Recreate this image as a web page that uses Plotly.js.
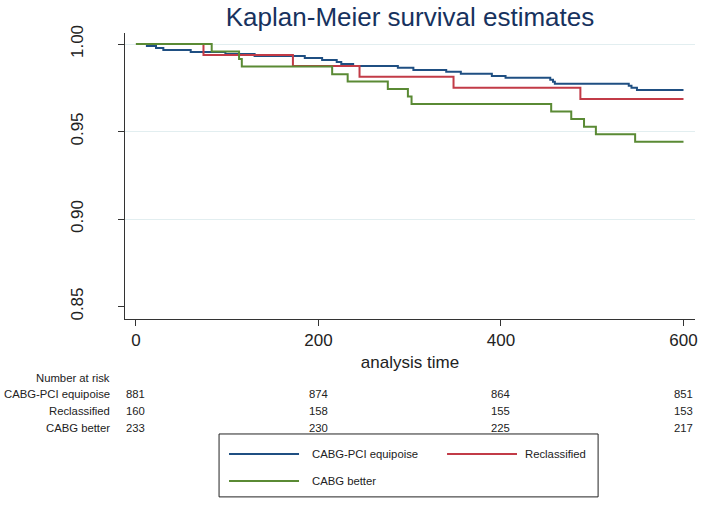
<!DOCTYPE html>
<html>
<head>
<meta charset="utf-8">
<script src="https://cdn.plot.ly/plotly-3.0.1.min.js"></script>
<style>html,body{margin:0;padding:0;background:#fff;}#chart{width:705px;height:507px;}</style>
</head>
<body>
<div id="chart"></div>
<script>
// Kaplan-Meier step data (time, survival)
const equipoiseT = [0, 12, 22, 30, 60, 98, 130, 185, 204, 220, 225, 238, 287, 304, 340, 356, 390, 405, 454, 457, 459, 540, 543, 549, 600];
const equipoiseS = [1, 0.9989, 0.9977, 0.9966, 0.9955, 0.9943, 0.9932, 0.9920, 0.9909, 0.9898, 0.9886, 0.9875, 0.9864, 0.9852, 0.9841, 0.9830, 0.9818, 0.9807, 0.9796, 0.9784, 0.9773, 0.9761, 0.9750, 0.9738, 0.9738];
const reclassT = [0, 74, 172, 245, 348, 487, 600];
const reclassS = [1, 0.9938, 0.9875, 0.9813, 0.9750, 0.9686, 0.9686];
const betterT = [0, 83, 113, 116, 215, 232, 276, 298, 302, 455, 477, 491, 504, 547, 600];
const betterS = [1, 0.9957, 0.9914, 0.9871, 0.9828, 0.9786, 0.9743, 0.9700, 0.9657, 0.9614, 0.9571, 0.9528, 0.9485, 0.9442, 0.9442];

const seriesNames = ["CABG-PCI equipoise", "Reclassified", "CABG better"];
const seriesColors = ["#1f4f82", "#c23b47", "#5a8a34"];

const xTicks = [0, 200, 400, 600];
const yTicks = [0.85, 0.90, 0.95, 1.00];
const yTickText = ["0.85", "0.90", "0.95", "1.00"];
const yGrid = [0.90, 0.95, 1.00];

const riskTimes = [0, 200, 400, 600];
const riskEquipoise = [881, 874, 864, 851];
const riskReclass = [160, 158, 155, 153];
const riskBetter = [233, 230, 225, 217];

const FONT = "Liberation Sans, Arial, sans-serif";
const SMALL = 11.3;

const data = [
  {x: equipoiseT, y: equipoiseS, name: seriesNames[0]},
  {x: reclassT, y: reclassS, name: seriesNames[1]},
  {x: betterT, y: betterS, name: seriesNames[2]}
].map((d, i) => Object.assign(d, {
  type: "scatter", mode: "lines", line: {shape: "hv", color: seriesColors[i], width: 2},
  showlegend: false, hoverinfo: "x+y+name"
}));

// Grid-only helper axis
data.push({x: [xTicks[0]], y: [yTicks[0]], yaxis: "y2", mode: "markers", marker: {opacity: 0}, showlegend: false, hoverinfo: "skip"});

const annotations = [];
// Risk table
const riskRows = [riskEquipoise, riskReclass, riskBetter];
const rowY = [-0.2622, -0.3217, -0.3811];
annotations.push({text: "Number at risk", xref: "paper", yref: "paper", x: -0.023, y: -0.2063, xanchor: "right", yanchor: "middle", showarrow: false, font: {family: FONT, size: SMALL, color: "#222"}});
riskRows.forEach((row, r) => {
  annotations.push({text: seriesNames[r], xref: "paper", yref: "paper", x: -0.023, y: rowY[r], xanchor: "right", yanchor: "middle", showarrow: false, font: {family: FONT, size: SMALL, color: "#222"}});
  row.forEach((v, k) => {
    annotations.push({text: String(v), xref: "x", yref: "paper", x: riskTimes[k], y: rowY[r], xanchor: "center", yanchor: "middle", showarrow: false, font: {family: FONT, size: SMALL, color: "#222"}});
  });
});

// Custom legend
const shapes = [
  {type: "rect", xref: "paper", yref: "paper", x0: 0.165, x1: 0.83, y0: -0.622, y1: -0.402, line: {color: "#222", width: 1}, fillcolor: "rgba(0,0,0,0)"}
];
const legItems = [
  {x0: 0.1825, x1: 0.3053, y: -0.472, tx: 0.3246, anchor: "left"},
  {x0: 0.565, x1: 0.6877, y: -0.472, tx: 0.8123, anchor: "right"},
  {x0: 0.1825, x1: 0.3053, y: -0.5664, tx: 0.3246, anchor: "left"}
];
legItems.forEach((it, i) => {
  shapes.push({type: "line", xref: "paper", yref: "paper", x0: it.x0, x1: it.x1, y0: it.y, y1: it.y, line: {color: seriesColors[i], width: 2}});
  annotations.push({text: seriesNames[i], xref: "paper", yref: "paper", x: it.tx, y: it.y, xanchor: it.anchor, yanchor: "middle", showarrow: false, font: {family: FONT, size: SMALL, color: "#222"}});
});

const yRange = [0.8429, 1.0063];
const layout = {
  width: 705, height: 507,
  margin: {l: 125, r: 10, t: 33, b: 188},
  paper_bgcolor: "#fff", plot_bgcolor: "#fff",
  font: {family: FONT, color: "#222"},
  title: {text: "Kaplan-Meier survival estimates", x: 0.5, xref: "paper", y: 0.967, yref: "container", yanchor: "middle",
          font: {family: FONT, size: 26, color: "#17325e"}},
  xaxis: {range: [-12, 612.6], tickvals: xTicks, ticks: "outside", ticklen: 6, tickcolor: "#333", tickwidth: 1,
          showgrid: false, zeroline: false, showline: true, linecolor: "#333", linewidth: 1,
          tickfont: {family: FONT, size: 17, color: "#222"},
          title: {text: "analysis time", font: {family: FONT, size: 17, color: "#222"}, standoff: 6}},
  yaxis: {range: yRange, tickvals: yTicks, ticktext: yTickText, ticks: "outside", ticklen: 6, tickcolor: "#333", tickwidth: 1,
          tickangle: -90, ticklabelstandoff: 28,
          showgrid: false, zeroline: false, showline: true, linecolor: "#333", linewidth: 1,
          tickfont: {family: FONT, size: 17, color: "#222"}},
  yaxis2: {range: yRange, overlaying: "y", tickvals: yGrid, showticklabels: false, ticks: "", showline: false,
           showgrid: true, gridcolor: "#e2eef0", gridwidth: 1, zeroline: false, layer: "below traces"},
  shapes: shapes,
  annotations: annotations,
  showlegend: false
};

Plotly.newPlot("chart", data, layout, {displayModeBar: false, staticPlot: true});
</script>
</body>
</html>
